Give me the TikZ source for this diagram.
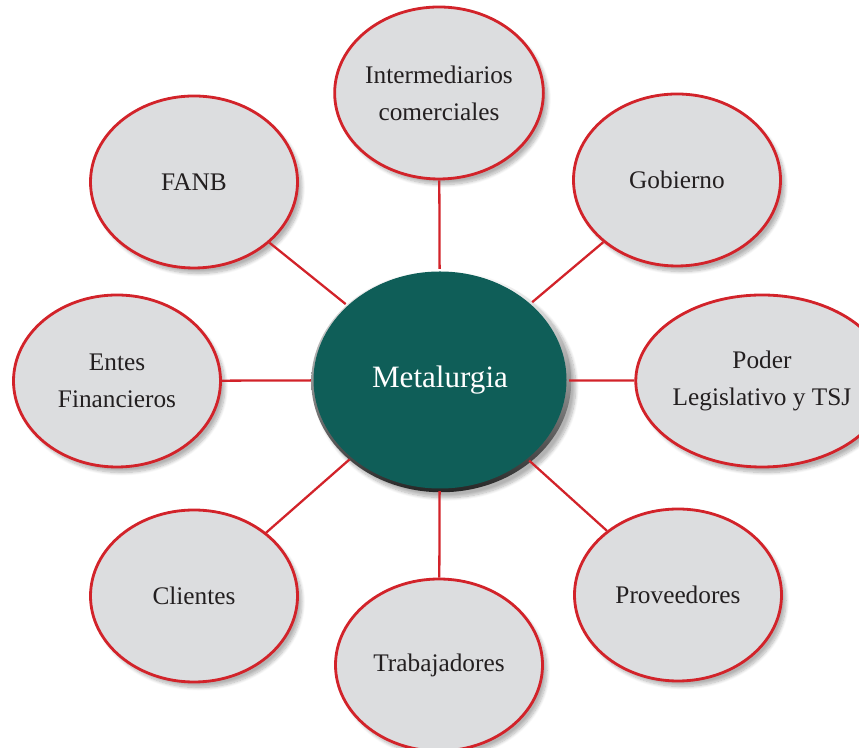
\documentclass[tikz,border=0pt]{standalone}
\usepackage{fontspec}
\setmainfont{Liberation Serif}
\usepackage{tikz}
\usetikzlibrary{shapes.geometric,shadows.blur,backgrounds}
\definecolor{redline}{HTML}{D2232A}
\definecolor{grayfill}{HTML}{DCDDDF}
\definecolor{tealfill}{HTML}{0F5E58}
\definecolor{inktext}{HTML}{231F20}

\begin{document}
\begin{tikzpicture}[
  actor/.style={ellipse,draw=redline,line width=1.6pt,fill=grayfill,text=inktext,
    minimum width=4.14cm,minimum height=3.44cm,align=center,inner sep=0pt,
    font=\fontsize{14.4}{21}\selectfont,
    blur shadow={shadow xshift=0.9mm,shadow yshift=-1.1mm,shadow blur steps=10,shadow opacity=30}},
  hub/.style={ellipse,fill=tealfill,text=white,minimum width=5.06cm,minimum height=4.34cm,
    inner sep=0pt,outer sep=1.5pt,font=\fontsize{17.7}{21}\selectfont},
  link/.style={draw=redline,line width=1.3pt}]
\useasboundingbox (0,0) rectangle (17.18,14.96);

\node[hub] (meta) at (8.8,7.36) {Metalurgia};

\node[actor] (inter) at (8.78,13.1) {Intermediarios\\comerciales};
\node[actor] (gob) at (13.54,11.36) {Gobierno};
\node[actor] (poder) at (15.24,7.34) {Poder\\Legislativo y TSJ};
\node[actor] (prov) at (13.56,3.06) {Proveedores};
\node[actor] (trab) at (8.78,1.66) {Trabajadores};
\node[actor] (clientes) at (3.88,3.04) {Clientes};
\node[actor] (entes) at (2.34,7.34) {Entes\\Financieros};
\node[actor] (fanb) at (3.88,11.32) {FANB};

\begin{scope}[on background layer]
\shade[shading angle=45,top color=white,bottom color=black!85,
  blur shadow={shadow xshift=0.9mm,shadow yshift=-1.1mm,shadow blur steps=10,shadow opacity=30}]
  ([xshift=0.25mm,yshift=-0.25mm]meta.center) ellipse [x radius=2.6cm,y radius=2.22cm];
\end{scope}

\draw[link] (meta) -- (inter);
\draw[link] (meta) -- (gob);
\draw[link] (meta) -- (poder);
\draw[link] (meta) -- (prov);
\draw[link] (meta) -- (trab);
\draw[link] (meta) -- (clientes);
\draw[link] (meta) -- (entes);
\draw[link] (meta) -- (fanb);
\end{tikzpicture}
\end{document}
